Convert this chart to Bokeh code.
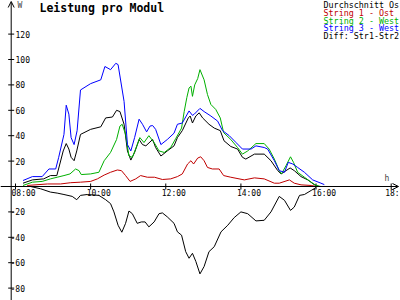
from bokeh.plotting import figure
from bokeh.models import Range1d, Arrow, OpenHead, Label
from bokeh.core.properties import value
from bokeh.embed import file_html
from bokeh.resources import INLINE

# ---- data (hours, watts per module) ----
t_s3 = [8.2, 8.45, 8.71, 8.89, 9.07, 9.15, 9.29, 9.35, 9.42, 9.48, 9.56, 9.64, 9.73, 10.0, 10.27,
        10.38, 10.53, 10.67, 10.73, 10.89, 10.98, 11.07, 11.17, 11.29, 11.38, 11.49, 11.58, 11.65,
        11.73, 11.87, 12.04, 12.22, 12.31, 12.44, 12.62, 12.71, 12.76, 12.91, 13.02, 13.2, 13.38,
        13.51, 13.69, 13.87, 14.04, 14.27, 14.4, 14.62, 14.71, 14.89, 15.02, 15.16, 15.26, 15.38,
        15.51, 15.69, 15.91, 16.13, 16.22]
w_s3 = [4.7, 7.8, 7.8, 13.8, 13.8, 23, 41, 64, 57, 38.5, 33, 44, 76, 81, 84,
        94.5, 92, 97, 96, 67, 33, 28, 38.5, 53, 49, 43, 47.6, 48,
        45, 33, 37, 42, 49, 50, 59.5, 56, 57, 61.5, 59, 55.5, 51.5,
        44, 40, 34.6, 29.5, 29.5, 32, 30.7, 29.5, 20.3, 12.5, 11.2, 19, 17.7,
        15, 11.2, 5.2, 2.6, 1.5]

t_s2 = [8.2, 8.45, 8.71, 8.93, 9.11, 9.29, 9.45, 9.6, 9.69, 9.75, 10.0, 10.22, 10.36, 10.53, 10.69,
        10.78, 10.84, 10.93, 11.02, 11.11, 11.23, 11.31, 11.42, 11.55, 11.69, 11.82, 11.96, 12.13,
        12.27, 12.42, 12.49, 12.56, 12.62, 12.67, 12.71, 12.77, 12.85, 12.91, 13.02, 13.11, 13.2,
        13.33, 13.45, 13.54, 13.73, 13.91, 14.04, 14.18, 14.4, 14.62, 14.75, 14.89, 15.02, 15.08,
        15.2, 15.32, 15.4, 15.51, 15.69, 15.87, 16.0, 16.13]
w_s2 = [0.8, 3.4, 4, 6, 7.3, 8.6, 9.9, 13.8, 12.5, 9.4, 9.9, 11.2, 20.3, 26.8, 37,
        47.6, 49, 41, 24, 23, 32, 38.5, 34.6, 40, 34.6, 28, 26.8, 30.7,
        38, 46, 59, 70, 77.6, 79, 71, 80, 85, 92, 84, 72.4, 64.6,
        60.7, 54, 42.4, 37, 30.7, 25.5, 28, 33.8, 33.8, 29.5, 21.6, 12.5, 9.9,
        16.4, 23.4, 19, 11.2, 7.3, 3.4, 0.8, 0]

t_s1 = [8.31, 8.85, 9.2, 9.47, 9.73, 10.0, 10.18, 10.36, 10.53, 10.71, 10.82, 10.93, 11.05, 11.2,
        11.33, 11.51, 11.7, 11.91, 12.13, 12.31, 12.44, 12.58, 12.67, 12.74, 12.85, 12.93, 13.02,
        13.11, 13.24, 13.42, 13.54, 13.73, 14.09, 14.36, 14.62, 14.89, 15.02, 15.29, 15.42, 15.6,
        15.87, 16.0]
w_s1 = [0.8, 2, 2, 3, 3.4, 4, 6, 9, 11.2, 13, 12.5, 8.6, 4, 6,
        8.6, 7.3, 7.3, 5.5, 6, 7.8, 9.9, 17.7, 20.3, 17.7, 22.4, 23.4, 20.3,
        15, 13.8, 13.8, 8.6, 7.3, 5.2, 6.8, 6, 2.6, 2.6, 5.2, 2.6, 1.3,
        0.8, 0]

t_avg = [8.2, 8.45, 8.75, 8.93, 9.1, 9.18, 9.27, 9.35, 9.42, 9.48, 9.56, 9.63, 9.73, 10.0, 10.27,
         10.4, 10.58, 10.69, 10.78, 10.89, 10.98, 11.07, 11.17, 11.29, 11.38, 11.47, 11.65, 11.73,
         11.87, 12.04, 12.22, 12.31, 12.44, 12.6, 12.65, 12.71, 12.8, 12.89, 12.98, 13.15, 13.29,
         13.45, 13.55, 13.73, 13.91, 14.04, 14.13, 14.36, 14.62, 14.8, 14.98, 15.07, 15.2, 15.31,
         15.42, 15.6, 15.78, 15.95, 16.08]
w_avg = [2.6, 5.2, 6, 8.6, 8.6, 17.7, 28, 33.8, 29.5, 23, 20.3, 28, 41, 45, 47,
         54, 54.7, 60, 59, 49, 28, 20.8, 26.8, 37, 33, 32, 37, 30.7,
         24, 28, 32, 38.5, 44, 54, 55.5, 50, 55.5, 58, 54, 49, 46,
         44, 36, 31.5, 29.5, 23, 21.6, 25.5, 25.5, 20.3, 12.5, 9.9, 12.5, 14.6,
         12.5, 7.8, 5.2, 1.5, 0]

t_diff = [8.4, 8.67, 8.93, 9.11, 9.29, 9.51, 9.63, 9.73, 9.91, 10.22, 10.4, 10.53, 10.62, 10.73,
          10.83, 10.93, 11.02, 11.11, 11.24, 11.35, 11.45, 11.55, 11.69, 11.82, 11.91, 12.04,
          12.22, 12.31, 12.42, 12.53, 12.62, 12.71, 12.8, 12.91, 13.02, 13.15, 13.29, 13.47,
          13.65, 13.82, 14.0, 14.18, 14.4, 14.62, 14.8, 15.02, 15.16, 15.32, 15.42, 15.56,
          15.69, 15.87, 16.0]
w_diff = [0, -1.8, -4.4, -5.2, -6.3, -7.8, -10.4, -7, -6.3, -7, -10.4, -13.5, -20, -30.5,
          -36, -29, -19.3, -21.4, -29, -27.9, -27.9, -31.8, -27.9, -21.4, -20.8, -23.9,
          -29, -35.7, -38.3, -51.3, -56.5, -52.6, -59, -68.8, -63, -51.3, -47.4, -35.7,
          -30.5, -24.5, -20, -21.4, -27.1, -26.6, -20, -7.8, -10.9, -18.8, -16.2, -7,
          -6.3, -3.1, -0.8]

x_ticks = [8, 10, 12, 14, 16, 18]
x_tick_labels = ["08:00", "10:00", "12:00", "14:00", "16:00", "18:"]
y_ticks = [120, 100, 80, 60, 40, 20, -20, -40, -60, -80]
y_tick_labels = ["120", "100", "80", "60", "40", "20", "-20", "-40", "-60", "-80"]

title_text = "Leistung pro Modul"
legend_texts = ["Durchschnitt Os", "String 1 - Ost", "String 2 - West", "String 3 - West", "Diff: Str1-Str2"]
legend_colors = ["#000000", "#c00000", "#00b000", "#0000ff", "#000000"]

# ---- figure ----
W, H = 400, 300
PXH = 37.57          # px per hour
PXW = 1.27           # px per watt
x0 = 8 - 15 / PXH
x1 = x0 + W / PXH
y1 = 186 / PXW
y0 = y1 - H / PXW
yaxis_x = 8 - 4.3 / PXH

p = figure(width=W, height=H, x_range=Range1d(x0, x1), y_range=Range1d(y0, y1),
           x_axis_type=None, y_axis_type=None, toolbar_location=None,
           output_backend="svg", min_border=0, title=None)
p.outline_line_color = None
p.background_fill_color = "white"
p.border_fill_color = "white"

mono = value("DejaVu Sans Mono")

# axes
p.add_layout(Arrow(end=OpenHead(size=6, line_width=1, line_color="black"),
                   x_start=x0, y_start=0, x_end=x1 - 2 / PXH, y_end=0,
                   line_color="black", line_width=1))
p.add_layout(Arrow(end=OpenHead(size=6, line_width=1, line_color="black"),
                   x_start=yaxis_x, y_start=y0, x_end=yaxis_x, y_end=y1 - 1 / PXW,
                   line_color="black", line_width=1))

# ticks
p.segment(x0=x_ticks, x1=x_ticks, y0=[-3 / PXW] * len(x_ticks), y1=[3 / PXW] * len(x_ticks),
          line_color="black", line_width=1)
p.segment(x0=[yaxis_x - 3 / PXH] * len(y_ticks), x1=[yaxis_x + 3 / PXH] * len(y_ticks),
          y0=y_ticks, y1=y_ticks, line_color="black", line_width=1)

# tick labels
n_in = len(x_ticks) - 1
p.text(x=x_ticks[:n_in], y=[0] * n_in, text=x_tick_labels[:n_in], x_offset=-4, y_offset=7,
       text_font=mono, text_font_size="8px", text_align="left", text_baseline="middle",
       text_color="black")
p.text(x=x_ticks[n_in:], y=[0], text=x_tick_labels[n_in:], x_offset=-6, y_offset=7,
       text_font=mono, text_font_size="8px", text_align="left", text_baseline="middle",
       text_color="black")
pos_idx = [i for i, v in enumerate(y_ticks) if v > 0]
neg_idx = [i for i, v in enumerate(y_ticks) if v < 0]
p.text(x=[8.0] * len(pos_idx), y=[y_ticks[i] for i in pos_idx],
       text=[y_tick_labels[i] for i in pos_idx],
       text_font=mono, text_font_size="8px", text_align="left", text_baseline="middle",
       text_color="black")
p.text(x=[8.0 - 5 / PXH] * len(neg_idx), y=[y_ticks[i] for i in neg_idx],
       text=[y_tick_labels[i] for i in neg_idx],
       text_font=mono, text_font_size="8px", text_align="left", text_baseline="middle",
       text_color="black")

# axis unit labels
p.add_layout(Label(x=17, y=H - 5, x_units="screen", y_units="screen", text="W",
                   text_font="DejaVu Sans Mono", text_font_size="8px",
                   text_baseline="middle", text_align="left"))
p.add_layout(Label(x=384, y=H - 178, x_units="screen", y_units="screen", text="h",
                   text_font="DejaVu Sans Mono", text_font_size="8px",
                   text_baseline="middle", text_align="left"))

# title
p.add_layout(Label(x=39, y=H - 7.5, x_units="screen", y_units="screen", text=title_text,
                   text_font="DejaVu Sans Mono", text_font_size="11.5px", text_font_style="bold",
                   text_baseline="middle", text_align="left", text_color="black"))

# legend
for i, (txt, col) in enumerate(zip(legend_texts, legend_colors)):
    p.add_layout(Label(x=323, y=H - (4.5 + 7.75 * i), x_units="screen", y_units="screen",
                       text=txt, text_font="DejaVu Sans Mono", text_font_size="8.4px",
                       text_baseline="middle", text_align="left", text_color=col))

# series
p.line(t_diff, w_diff, line_color="black", line_width=1)
p.line(t_s1, w_s1, line_color="#c00000", line_width=1)
p.line(t_avg, w_avg, line_color="black", line_width=1)
p.line(t_s2, w_s2, line_color="#00b000", line_width=1)
p.line(t_s3, w_s3, line_color="#0000ff", line_width=1)

open("out.html", "w").write(file_html(p, INLINE))
